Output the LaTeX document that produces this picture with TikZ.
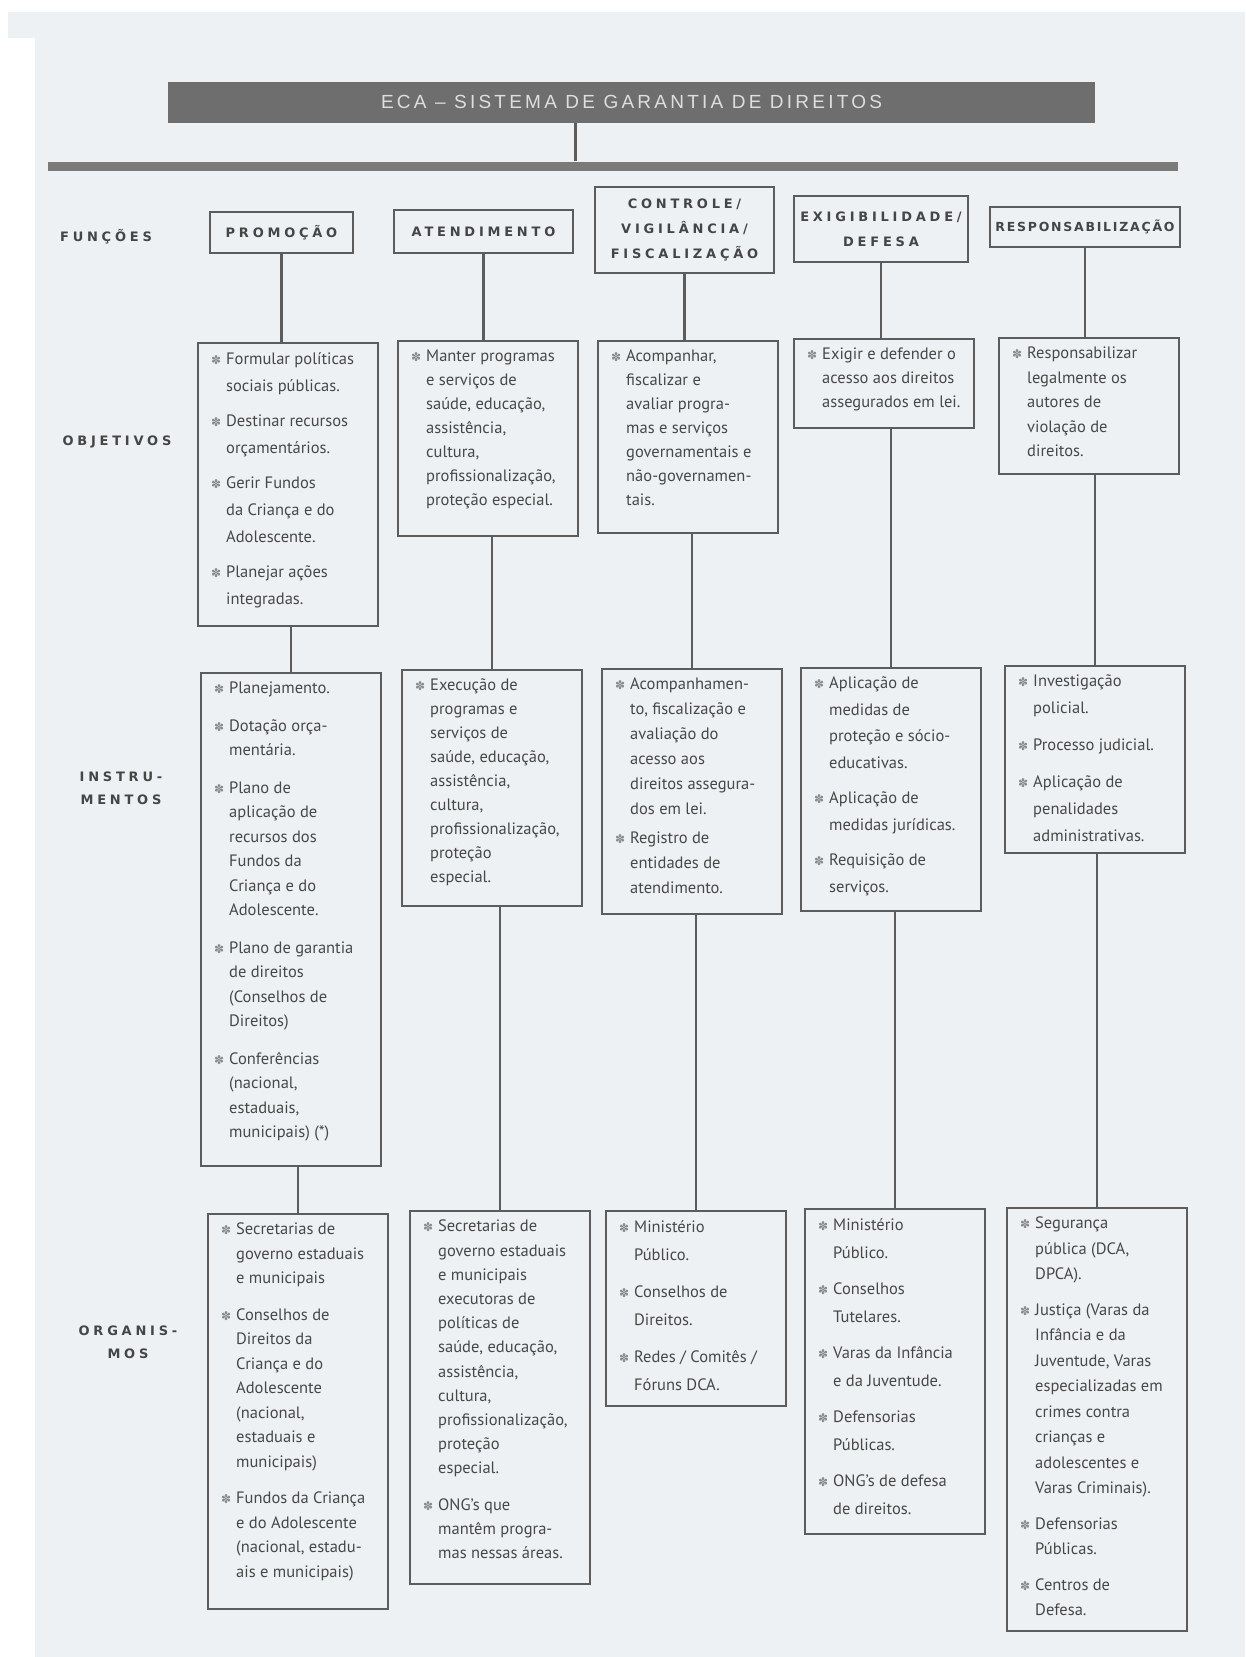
\documentclass[tikz,border=0pt]{standalone}
\usepackage{fontspec}
\setmainfont{PT Sans}
\newfontfamily\rotfont[LetterSpace=29]{DejaVu Sans}
\newfontfamily\rotfontb[LetterSpace=14]{DejaVu Sans}
\newfontfamily\titfont[LetterSpace=17]{Liberation Sans}
\newfontfamily\simbfont{DejaVu Sans}
\usetikzlibrary{calc}
\definecolor{papel}{HTML}{EEF1F3}
\definecolor{linha}{HTML}{5C5C5C}
\definecolor{texto}{HTML}{474747}
\definecolor{rotulo}{HTML}{454545}
\definecolor{faixa}{HTML}{6E6E6E}
\definecolor{barra}{HTML}{7A7A7A}
\definecolor{marcacor}{HTML}{8A8A8A}
\newcommand\bul{{\simbfont\fontsize{12}{12}\selectfont\color{marcacor}✽}}
\newcommand\marca{\par\noindent\hangindent=15pt\hangafter=1\makebox[15pt][l]{\bul}}
\newcommand\conteudo[4]{\parbox[c][#1][t]{154pt}{\raggedright\let\\\newline
  \setlength\parskip{#3pt}\fontsize{16.5}{#2}\selectfont #4}}

\begin{document}
\begin{tikzpicture}[x=1pt,y=-1pt,
      caixa/.style={draw=linha,line width=2.4pt,fill=papel,inner xsep=13pt,
        inner ysep=9pt,anchor=north west,text=texto},
      cabeca/.style={draw=linha,line width=2.6pt,fill=papel,inner sep=0pt,
        align=center,text=rotulo,font=\rotfont\bfseries\fontsize{13}{25}\selectfont},
      lado/.style={text=rotulo,align=center,
        font=\rotfont\bfseries\fontsize{13}{23}\selectfont},
      liga/.style={draw=linha,line width=2.4pt}]
   \useasboundingbox(0,0)rectangle(1245,1657);
   \fill[white](0,0)rectangle(1245,1657);
   \fill[papel](35,12)rectangle(1245,1657)(8,12)rectangle(35,38);
   \node[fill=faixa,minimum width=927pt,minimum height=41pt,inner sep=0pt,
     text=black!13,font=\titfont\fontsize{19}{19}\selectfont](titulo)at(631.5,102)
     {ECA – SISTEMA DE GARANTIA DE DIREITOS};
   \node[fill=barra,minimum width=1130pt,minimum height=9pt,inner sep=0pt]
     (faixabase)at(613,166){};
   \coordinate(desce)at([xshift=-56pt]titulo.south);
   \draw[liga](desce)--(desce|-faixabase.north);
   \node[lado](lfun)at(106,237){FUNÇÕES};
   \node[lado](lobj)at(117,442){OBJETIVOS};
   \node[lado](lins)at(121,788){INSTRU-\\MENTOS};
   \node[lado](lorg)at(128,1342){ORGANIS-\\MOS};
   \node[cabeca,minimum width=143pt,minimum height=41pt](fprom)at(281.5,232.5)
     {PROMOÇÃO};
   \node[cabeca,minimum width=179pt,minimum height=43pt](faten)at(483.5,231.5)
     {ATENDIMENTO};
   \node[cabeca,minimum width=179pt,minimum height=86pt](fctrl)at(684.5,230)
     {CONTROLE/\\VIGILÂNCIA/\\FISCALIZAÇÃO};
   \node[cabeca,minimum width=174pt,minimum height=66pt](fexig)at(881,229)
     {EXIGIBILIDADE/\\DEFESA};
   \node[cabeca,minimum width=190pt,minimum height=40pt,
     font=\rotfontb\bfseries\fontsize{12.5}{20}\selectfont](fresp)at(1085,227)
     {RESPONSABILIZAÇÃO};
   \node[caixa](oprom)at(197,342){\conteudo{265pt}{27}{8}{\marca Formular políticas\\
     sociais públicas. \marca Destinar recursos\\ orçamentários.
     \marca Gerir Fundos\\ da Criança e do\\ Adolescente.
     \marca Planejar ações\\ integradas.}};
   \node[caixa](oaten)at(397,340){\conteudo{177pt}{24}{11}{\marca Manter programas\\
     e serviços de\\ saúde, educação,\\ assistência,\\ cultura,\\
     profissionalização,\\ proteção especial.}};
   \node[caixa](octrl)at(597,340){\conteudo{174pt}{24}{11}{\marca Acompanhar,\\
     fiscalizar e\\ avaliar progra-\\ mas e serviços\\ governamentais e\\
     não-governamen-\\ tais.}};
   \node[caixa](oexig)at(793,338){\conteudo{71pt}{24}{11}{\marca Exigir e defender o\\
     acesso aos direitos\\ assegurados em lei.}};
   \node[caixa](oresp)at(998,337){\conteudo{118pt}{24.5}{11}{\marca Responsabilizar\\
     legalmente os\\ autores de\\ violação de\\ direitos.}};
   \node[caixa](iprom)at(200,672){\conteudo{475pt}{24.5}{13}{\marca Planejamento.
     \marca Dotação orça-\\ mentária.
     \marca Plano de\\ aplicação de\\ recursos dos\\ Fundos da\\ Criança e do\\
     Adolescente.
     \marca Plano de garantia\\ de direitos\\ (Conselhos de\\ Direitos)
     \marca Conferências\\ (nacional,\\ estaduais,\\ municipais) (*)}};
   \node[caixa](iaten)at(401,669){\conteudo{218pt}{24}{11}{\marca Execução de\\
     programas e\\ serviços de\\ saúde, educação,\\ assistência,\\ cultura,\\
     profissionalização,\\ proteção\\ especial.}};
   \node[caixa](ictrl)at(601,668){\conteudo{227pt}{25}{4}{\marca Acompanhamen-\\
     to, fiscalização e\\ avaliação do\\ acesso aos\\ direitos assegura-\\
     dos em lei. \marca Registro de\\ entidades de\\ atendimento.}};
   \node[caixa](iexig)at(800,667){\conteudo{225pt}{26.5}{9}{\marca Aplicação de\\
     medidas de\\ proteção e sócio-\\ educativas. \marca Aplicação de\\
     medidas jurídicas. \marca Requisição de\\ serviços.}};
   \node[caixa](iresp)at(1004,665){\conteudo{169pt}{27}{10}{\marca Investigação\\
     policial. \marca Processo judicial. \marca Aplicação de\\ penalidades\\
     administrativas.}};
   \node[caixa](gprom)at(207,1213){\conteudo{377pt}{24.5}{12}{\marca Secretarias de\\
     governo estaduais\\ e municipais \marca Conselhos de\\ Direitos da\\
     Criança e do\\ Adolescente\\ (nacional,\\ estaduais e\\ municipais)
     \marca Fundos da Criança\\ e do Adolescente\\ (nacional, estadu-\\
     ais e municipais)}};
   \node[caixa](gaten)at(409,1210){\conteudo{355pt}{24.2}{12}{\marca Secretarias de\\
     governo estaduais\\ e municipais\\ executoras de\\ políticas de\\
     saúde, educação,\\ assistência,\\ cultura,\\ profissionalização,\\
     proteção\\ especial. \marca ONG's que\\ mantêm progra-\\
     mas nessas áreas.}};
   \node[caixa](gctrl)at(605,1210){\conteudo{177pt}{28}{9}{\marca Ministério\\
     Público. \marca Conselhos de\\ Direitos. \marca Redes / Comitês /\\
     Fóruns DCA.}};
   \node[caixa](gexig)at(804,1208){\conteudo{307pt}{28}{8}{\marca Ministério\\
     Público. \marca Conselhos\\ Tutelares. \marca Varas da Infância\\
     e da Juventude. \marca Defensorias\\ Públicas. \marca ONG's de defesa\\
     de direitos.}};
   \node[caixa](gresp)at(1006,1207){\conteudo{405pt}{25.5}{10}{\marca Segurança\\
     pública (DCA,\\ DPCA). \marca Justiça (Varas da\\ Infância e da\\
     Juventude, Varas\\ especializadas em\\ crimes contra\\ crianças e\\
     adolescentes e\\ Varas Criminais). \marca Defensorias\\ Públicas.
     \marca Centros de\\ Defesa.}};
   \foreach \c in {prom,aten,ctrl,exig,resp}{
     \draw[liga](f\c.south)--(f\c.south|-o\c.north);
     \draw[liga](i\c.north|-o\c.south)--(i\c.north);
     \draw[liga](g\c.north|-i\c.south)--(g\c.north);
   }
\end{tikzpicture}
\end{document}
